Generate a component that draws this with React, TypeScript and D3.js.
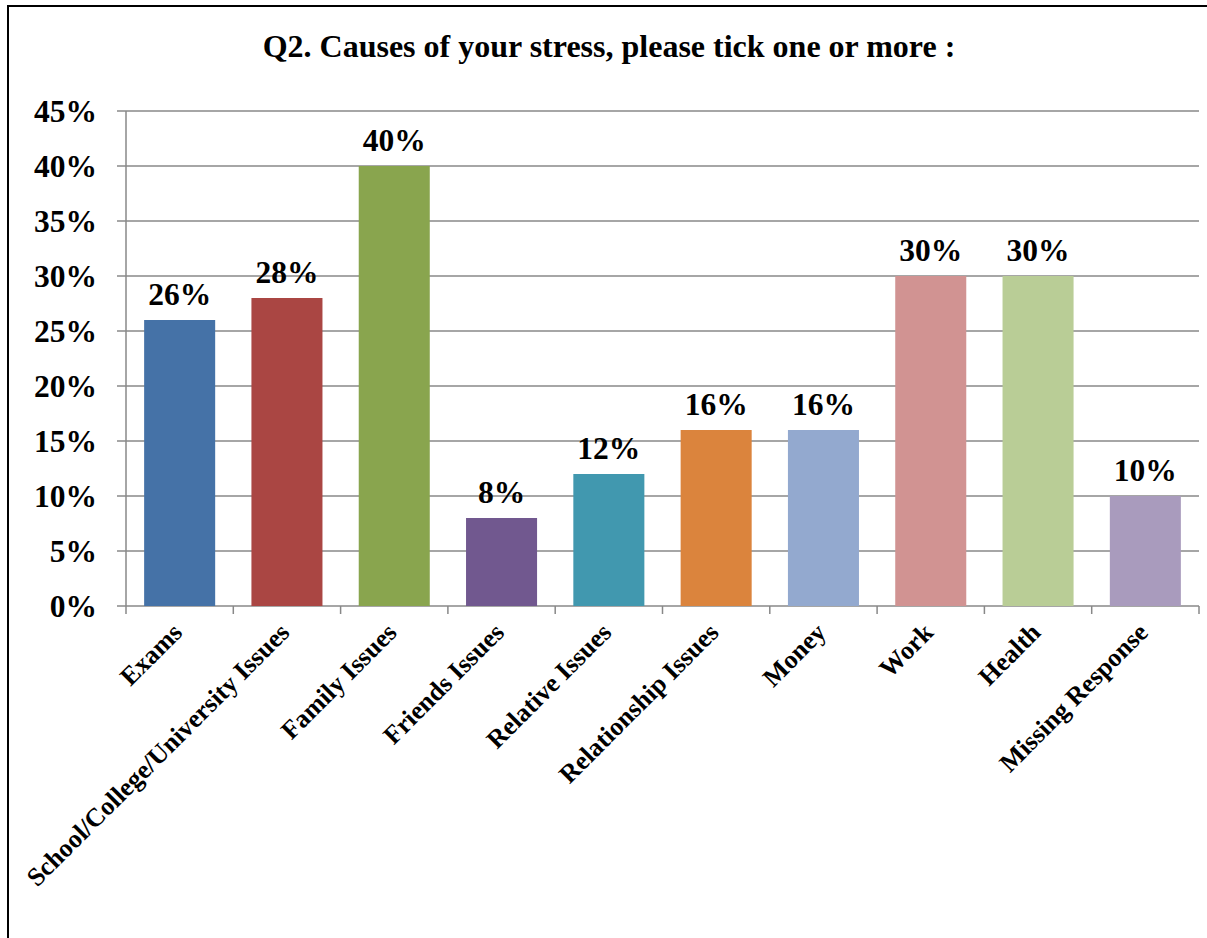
import * as d3 from 'd3';

const categories = [
  'Exams',
  'School/College/University Issues',
  'Family Issues',
  'Friends Issues',
  'Relative Issues',
  'Relationship Issues',
  'Money',
  'Work',
  'Health',
  'Missing Response',
];
const values = [26, 28, 40, 8, 12, 16, 16, 30, 30, 10];
const colors = [
  '#4572A7', '#AA4643', '#89A54E', '#71588F', '#4198AF',
  '#DB843D', '#93A9CF', '#D19392', '#B9CD96', '#A99BBD',
];
const yTicks = [0, 5, 10, 15, 20, 25, 30, 35, 40, 45];

const W = 1207;
const H = 938;
const FONT = '"Liberation Serif", "Times New Roman", serif';

export default function App() {
  const left = 126;
  const right = 1199;
  const top = 111;
  const bottom = 606;

  const x = d3.scaleBand<string>()
    .domain(categories)
    .range([left, right])
    .paddingInner(0.338)
    .paddingOuter(0.169);
  const y = d3.scaleLinear().domain([0, 45]).range([bottom, top]);
  const step = (right - left) / categories.length;

  return (
    <svg width={W} height={H} style={{ position: 'absolute', left: 0, top: 0, background: '#fff' }}>
      {/* outer frame */}
      <rect x={8} y={6} width={W + 20} height={H + 20} fill="none" stroke="#000" strokeWidth={2} />

      <text x={609} y={57} textAnchor="middle" fontFamily={FONT} fontWeight="bold" fontSize={32}>
        Q2. Causes of your stress, please tick one or more :
      </text>

      {/* gridlines + y labels */}
      {yTicks.map((t) => (
        <g key={t}>
          <line x1={117} x2={right} y1={y(t)} y2={y(t)} stroke="#888" strokeWidth={1.5} />
          <text x={97} y={y(t)} dy="0.35em" textAnchor="end" fontFamily={FONT} fontWeight="bold" fontSize={31.5}>
            {t}%
          </text>
        </g>
      ))}
      <line x1={left} x2={left} y1={top} y2={bottom} stroke="#888" strokeWidth={1.5} />

      {/* x tick marks */}
      {d3.range(categories.length + 1).map((i) => (
        <line key={i} x1={left + i * step} x2={left + i * step} y1={bottom} y2={bottom + 8} stroke="#888" strokeWidth={1.5} />
      ))}

      {/* bars */}
      {categories.map((c, i) => (
        <rect key={c} x={x(c)} y={y(values[i])} width={x.bandwidth()} height={bottom - y(values[i])} fill={colors[i]} />
      ))}

      {/* value labels */}
      {categories.map((c, i) => (
        <text key={c} x={(x(c) ?? 0) + x.bandwidth() / 2} y={y(values[i]) - 15} textAnchor="middle"
          fontFamily={FONT} fontWeight="bold" fontSize={31.5}>
          {values[i]}%
        </text>
      ))}

      {/* category labels */}
      {categories.map((c) => {
        const cx = (x(c) ?? 0) + x.bandwidth() / 2 + 4;
        return (
          <text key={c} transform={`translate(${cx},${634}) rotate(-45)`} textAnchor="end"
            fontFamily={FONT} fontWeight="bold" fontSize={26}>
            {c}
          </text>
        );
      })}
    </svg>
  );
}
